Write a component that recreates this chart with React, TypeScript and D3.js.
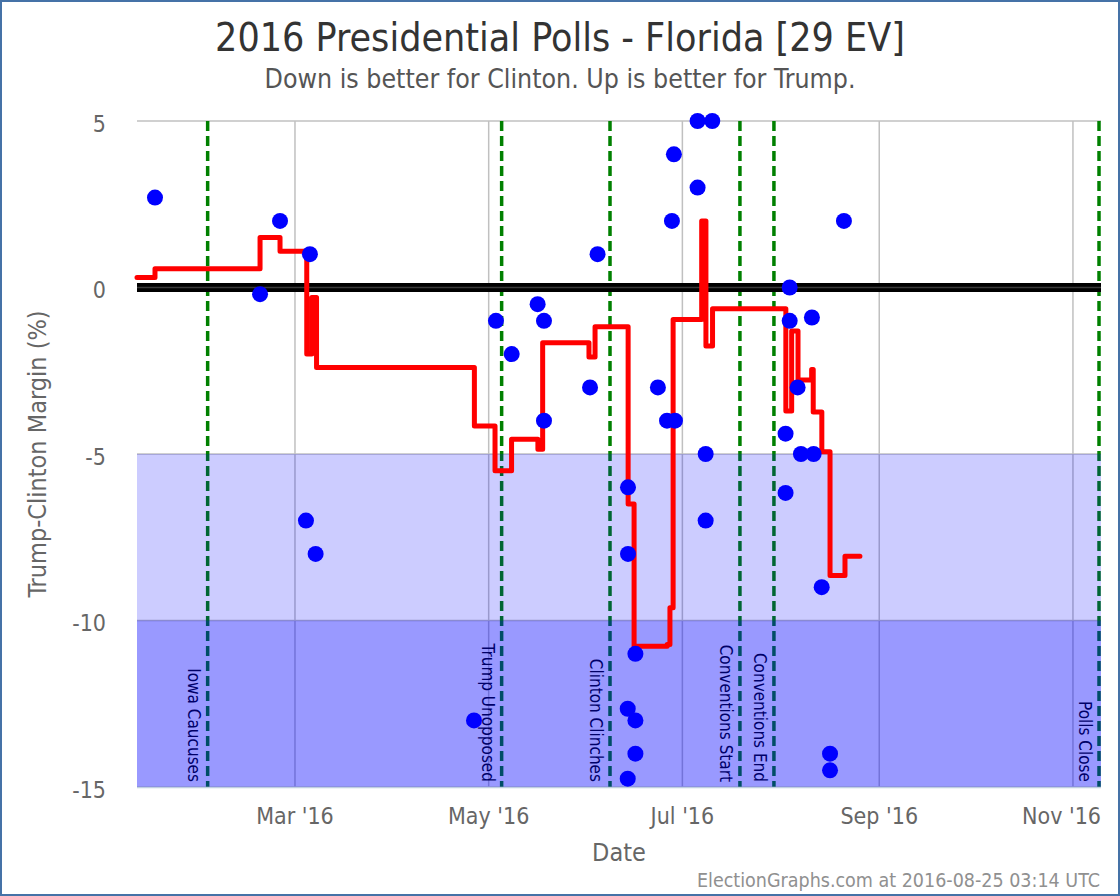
import React from "react";
import * as d3 from "d3";

const W = 1120;
const H = 896;
const FONT = '"DejaVu Sans Condensed", "DejaVu Sans", sans-serif';

// ---- data ----
const xDomain = ["2016-01-11T06:00Z", "2016-11-09T20:00Z"];
const yDomain = [-15, 5];
const yTicks = [5, 0, -5, -10, -15];

const pollDates = [
  "2016-01-16T22:00Z", "2016-02-19T00:00Z", "2016-02-25T07:00Z", "2016-03-04T11:00Z",
  "2016-03-05T17:00Z", "2016-03-07T12:00Z", "2016-04-26T09:00Z", "2016-05-03T07:00Z",
  "2016-05-08T06:00Z", "2016-05-16T10:00Z", "2016-05-18T10:00Z", "2016-05-18T10:00Z",
  "2016-06-01T22:00Z", "2016-06-04T07:00Z", "2016-06-13T21:00Z", "2016-06-13T21:00Z",
  "2016-06-13T19:00Z", "2016-06-13T19:00Z", "2016-06-16T05:00Z", "2016-06-16T05:00Z",
  "2016-06-16T05:00Z", "2016-06-23T07:00Z", "2016-06-26T04:00Z", "2016-06-28T16:00Z",
  "2016-06-27T17:00Z", "2016-06-28T08:00Z", "2016-07-05T19:00Z", "2016-07-05T19:00Z",
  "2016-07-08T08:00Z", "2016-07-08T08:00Z", "2016-07-10T10:00Z", "2016-08-02T12:00Z",
  "2016-08-02T12:00Z", "2016-08-03T19:00Z", "2016-08-03T19:00Z", "2016-08-06T07:00Z",
  "2016-08-07T08:00Z", "2016-08-10T19:00Z", "2016-08-11T08:00Z", "2016-08-13T21:00Z",
  "2016-08-16T12:00Z", "2016-08-16T12:00Z", "2016-08-20T21:00Z",
];
const pollValues = [
  2.7, -0.2, 2.0, -7.0,
  1.0, -8.0, -13.0, -1.0,
  -2.0, -0.5, -1.0, -4.0,
  -3.0, 1.0, -6.0, -8.0,
  -12.65, -14.75, -11.0, -13.0,
  -14.0, -3.0, -4.0, -4.0,
  2.0, 4.0, 3.0, 5.0,
  -5.0, -7.0, 5.0, -4.39,
  -6.17, 0.0, -1.0, -3.0,
  -5.0, -0.9, -5.0, -9.0,
  -14.0, -14.5, 2.0,
];

const avgDates = [
  "2016-01-11T06:00Z", "2016-01-16T22:00Z", "2016-02-19T00:00Z", "2016-02-25T07:00Z",
  "2016-03-04T17:00Z", "2016-03-06T07:00Z", "2016-03-07T19:00Z", "2016-04-26T12:00Z",
  "2016-05-03T00:00Z", "2016-05-08T05:00Z", "2016-05-16T12:00Z", "2016-05-18T00:00Z",
  "2016-06-01T14:00Z", "2016-06-03T12:00Z", "2016-06-13T22:00Z", "2016-06-15T19:00Z",
  "2016-06-26T05:00Z", "2016-06-27T02:00Z", "2016-06-28T02:00Z", "2016-07-07T02:00Z",
  "2016-07-08T10:00Z", "2016-07-10T12:00Z", "2016-08-02T14:00Z", "2016-08-04T10:00Z",
  "2016-08-06T10:00Z", "2016-08-10T17:00Z", "2016-08-11T05:00Z", "2016-08-13T22:00Z",
  "2016-08-16T12:00Z", "2016-08-21T05:00Z", "2016-08-25T22:00Z",
];
const avgValues = [
  0.3, 0.56, 1.5, 1.09,
  -2.0, -0.3, -2.4, -4.16,
  -5.5, -4.56, -4.86, -1.66,
  -2.09, -1.18, -6.5, -10.77,
  -10.72, -9.62, -0.96, 2.0,
  -1.76, -0.64, -3.71, -1.31,
  -2.78, -2.46, -3.74, -4.93,
  -8.65, -8.07, -8.07,
];

const eventNames = [
  "Iowa Caucuses", "Trump Unopposed", "Clinton Clinches",
  "Conventions Start", "Conventions End", "Polls Close",
];
const eventDates = [
  "2016-02-02T12:00Z", "2016-05-05T02:00Z", "2016-06-08T05:00Z",
  "2016-07-19T03:00Z", "2016-07-29T20:00Z", "2016-11-09T05:00Z",
];

const bandFrom = [-5, -10];
const bandTo = [-10, -15];

const title = "2016 Presidential Polls - Florida [29 EV]";
const subtitle = "Down is better for Clinton. Up is better for Trump.";
const yTitle = "Trump-Clinton Margin (%)";
const xTitle = "Date";
const credit = "ElectionGraphs.com at 2016-08-25 03:14 UTC";

// ---- layout ----
const PL = 137, PR = 1101, PT = 121, PB = 787;

export default function App() {
  const x = d3.scaleUtc().domain(xDomain.map((d) => new Date(d))).range([PL, PR]);
  const y = d3.scaleLinear().domain(yDomain).range([PB, PT]);
  const xTicks = x.ticks(d3.utcMonth.every(2));
  const fmt = d3.utcFormat("%b '%y");

  const avg = avgDates.map((d, i) => ({ d: new Date(d), v: avgValues[i] }));
  const line = d3
    .line<{ d: Date; v: number }>()
    .x((p) => x(p.d))
    .y((p) => y(p.v))
    .curve(d3.curveStepAfter);

  const polls = pollDates.map((d, i) => ({ d: new Date(d), v: pollValues[i] }));
  const bandOpacity = [0.2, 0.4];

  return (
    <div style={{ position: "absolute", left: 0, top: 0 }}>
      <svg width={W} height={H} style={{ display: "block", fontFamily: FONT, fontStretch: "condensed" }}>
        <rect x={0} y={0} width={W} height={H} fill="#fff" />
        <rect x={1} y={1} width={W - 2} height={H - 2} fill="none" stroke="#4572A7" strokeWidth={2} />

        {/* grid */}
        {xTicks.map((t, i) => (
          <line key={"xg" + i} x1={x(t)} x2={x(t)} y1={PT} y2={PB} stroke="#c0c0c0" strokeWidth={1.5} />
        ))}
        {yTicks.map((t, i) => (
          <line key={"yg" + i} x1={PL} x2={PR} y1={y(t)} y2={y(t)} stroke="#c0c0c0" strokeWidth={1.5} />
        ))}

        {/* events */}
        {eventDates.map((d, i) => {
          const ex = x(new Date(d));
          return (
            <g key={"ev" + i}>
              <line x1={ex} x2={ex} y1={PT} y2={PB} stroke="#008000" strokeWidth={3.5} strokeDasharray="10,5" />
              <text
                transform={`translate(${ex - 20},${PB - 5}) rotate(90)`}
                textAnchor="end"
                fontSize={17}
                fill="#000"
              >
                {eventNames[i]}
              </text>
            </g>
          );
        })}

        {/* bands */}
        {bandFrom.map((b, i) => (
          <rect
            key={"band" + i}
            x={PL}
            width={PR - PL}
            y={y(b)}
            height={y(bandTo[i]) - y(b)}
            fill="#0000ff"
            fillOpacity={bandOpacity[i]}
          />
        ))}
        <line x1={PL} x2={PR} y1={PB + 0.5} y2={PB + 0.5} stroke="#C0D0E0" strokeWidth={1.5} />

        {/* zero line */}
        <line x1={PL} x2={PR} y1={y(0)} y2={y(0)} stroke="#000" strokeWidth={9} />
        <line x1={PL} x2={PR} y1={y(0)} y2={y(0)} stroke="#3a3a3a" strokeWidth={1.5} />

        {/* average */}
        <path d={line(avg) || ""} fill="none" stroke="#ff0000" strokeWidth={5} strokeLinejoin="round" strokeLinecap="round" />

        {/* polls */}
        {polls.map((p, i) => (
          <circle key={"p" + i} cx={x(p.d)} cy={y(p.v)} r={8} fill="#0000ff" />
        ))}

        {/* axes labels */}
        {yTicks.map((t, i) => (
          <text key={"yl" + i} x={106} y={y(t) + 4} textAnchor="end" dominantBaseline="middle" fontSize={23} fill="#666">
            {t}
          </text>
        ))}
        {xTicks.map((t, i) => {
          const last = i === xTicks.length - 1;
          return (
            <text
              key={"xl" + i}
              x={last ? PR : x(t)}
              y={817}
              textAnchor={last ? "end" : "middle"}
              dominantBaseline="middle"
              fontSize={23}
              fill="#666"
            >
              {fmt(t)}
            </text>
          );
        })}

        <text x={(PL + PR) / 2} y={854} textAnchor="middle" dominantBaseline="middle" fontSize={25} fill="#666">
          {xTitle}
        </text>
        <text
          transform={`translate(39,${(PT + PB) / 2}) rotate(-90)`}
          textAnchor="middle"
          dominantBaseline="middle"
          fontSize={25}
          fill="#666"
        >
          {yTitle}
        </text>

        <text x={560} y={40} textAnchor="middle" dominantBaseline="middle" fontSize={39} fill="#333">
          {title}
        </text>
        <text x={560} y={80} textAnchor="middle" dominantBaseline="middle" fontSize={26.5} fill="#555">
          {subtitle}
        </text>
        <text x={1100} y={881} textAnchor="end" dominantBaseline="middle" fontSize={19.5} fill="#909090">
          {credit}
        </text>
      </svg>
    </div>
  );
}
